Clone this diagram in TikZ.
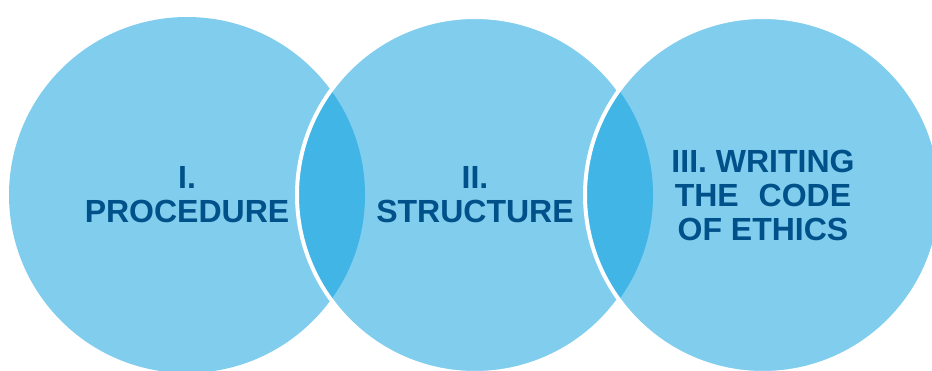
\documentclass[tikz,border=0pt]{standalone}
\usepackage{fontspec}
\setmainfont{Liberation Sans}
\usetikzlibrary{positioning}

\definecolor{discblue}{HTML}{80CDEE}
\definecolor{lensblue}{HTML}{41B5E5}
\definecolor{textblue}{HTML}{005189}

\tikzset{
  disc/.style={circle, fill=discblue, minimum size=356pt, inner sep=0pt,
    text=textblue, align=center, font=\fontsize{32}{34}\selectfont\bfseries},
  rim/.style={draw=white, line width=4pt},
  lens/.style={fill=lensblue}
}

\begin{document}
\begin{tikzpicture}[x=1pt, y=1pt, node distance=288pt]
\useasboundingbox (0,0) rectangle (932,370);
\clip (0,0) rectangle (932,370);

%circles
\node [disc] (proc) at (187,175) {I.\\PROCEDURE};
\node [disc, right of=proc] (struct) {II.\\STRUCTURE};

%overlap
\begin{scope}
\clip (proc.center) circle (178pt);
\path [lens] (struct.center) circle (178pt);
\end{scope}
\path [rim] (struct.center) circle (178pt);

\node [disc, right of=struct] (ethics) {III. WRITING\\THE\hspace{20pt}CODE\\OF ETHICS};

\begin{scope}
\clip (struct.center) circle (178pt);
\path [lens] (ethics.center) circle (178pt);
\end{scope}
\path [rim] (ethics.center) circle (178pt);

\end{tikzpicture}
\end{document}
